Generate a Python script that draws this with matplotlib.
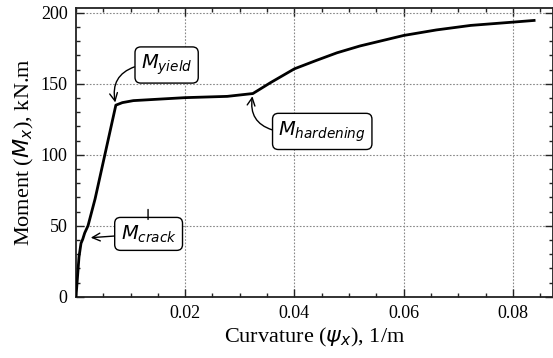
import matplotlib
matplotlib.use("Agg")
from matplotlib import pyplot as plt
from matplotlib.ticker import MultipleLocator

# moment-curvature response of the section
curvature = [0, 0.00024, 0.00055, 0.00092, 0.00123, 0.0016, 0.0022, 0.0035,
             0.0073, 0.0085, 0.0105, 0.015, 0.02, 0.0277, 0.0324, 0.034,
             0.0356, 0.04, 0.044, 0.0478, 0.052, 0.06, 0.066, 0.0723, 0.08, 0.0839]
moment = [0, 12, 28, 37.7, 40.5, 45, 50, 69,
          135, 136.8, 138.2, 139.2, 140.3, 141.2, 143.2, 147,
          150.8, 160.6, 166.5, 171.9, 176.7, 184.1, 188, 191.2, 193.5, 194.7]

# characteristic points
crack = (0.0022, 41.5)
yld = (0.0073, 135)
hard = (0.0324, 143.2)

plt.rcParams['font.family'] = ['Liberation Serif', 'DejaVu Serif']
plt.rcParams['mathtext.fontset'] = 'dejavusans'

fig = plt.figure(figsize=(5.53, 3.58), dpi=100)
ax = fig.add_axes([0.1374, 0.171, 0.862, 0.808])

ax.plot(curvature, moment, '-', color='black', lw=2.0, zorder=3)

ax.set_xlim(0, 0.0873)
ax.set_ylim(0, 203.8)
ax.xaxis.set_major_locator(MultipleLocator(0.02))
ax.xaxis.set_minor_locator(MultipleLocator(0.005))
ax.yaxis.set_major_locator(MultipleLocator(50))
ax.yaxis.set_minor_locator(MultipleLocator(10))
ax.set_xticks([0.02, 0.04, 0.06, 0.08])
ax.set_xticklabels(['0.02', '0.04', '0.06', '0.08'])
ax.tick_params(which='both', direction='in', top=True, right=True,
               labelsize=13, width=1.0, color='#222222')
ax.tick_params(which='major', length=6, pad=6)
ax.tick_params(which='minor', length=3)
for s in ax.spines.values():
    s.set_linewidth(1.3)
    s.set_color('#222222')
ax.grid(True, which='major', linestyle=(0, (1.5, 1.5)), color='#888888', lw=0.8)

ax.set_xlabel(r'Curvature ($\psi_x$), 1/m', fontsize=16, labelpad=3)
ax.set_ylabel(r'Moment ($M_x$), kN.m', fontsize=16, labelpad=3)

box = dict(boxstyle='round,pad=0.3', fc='white', ec='black', lw=1.0)
arrow = dict(arrowstyle='->', color='black', lw=1.0, shrinkA=0, shrinkB=2)

ax.annotate(r'$M_{yield}$', xy=yld, xytext=(0.0166, 163.3), fontsize=14,
            ha='center', va='center', bbox=box,
            arrowprops=dict(arrow, relpos=(0, 0.5),
                            connectionstyle='arc3,rad=0.5'))
ax.annotate(r'$M_{hardening}$', xy=hard, xytext=(0.0451, 116.5), fontsize=14,
            ha='center', va='center', bbox=box,
            arrowprops=dict(arrow, relpos=(0, 0.5),
                            connectionstyle='arc3,rad=-0.5'))
ax.annotate(r'$M_{crack}$', xy=crack, xytext=(0.0133, 44.3), fontsize=14,
            ha='center', va='center', bbox=box,
            arrowprops=dict(arrow, relpos=(0, 0.42),
                            connectionstyle='arc3,rad=0'))
ax.annotate('', xy=(0.0132, 61.5), xytext=(0.0132, 54.5),
            arrowprops=dict(arrowstyle='-', color='black', lw=1.0,
                            shrinkA=0, shrinkB=0))

fig.savefig('out.png', dpi=100)
